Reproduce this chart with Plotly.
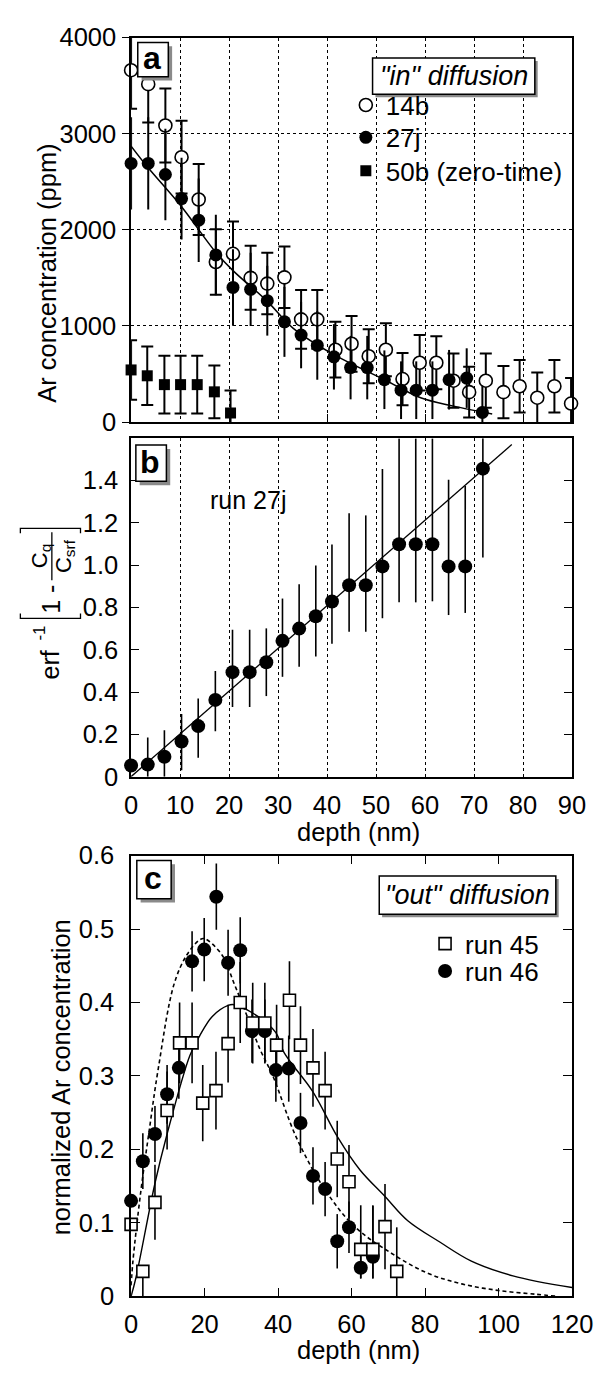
import plotly.graph_objects as go

W, H = 615, 1377
FONT = "Liberation Sans"

# ---------------- panel a data ("in" diffusion) ----------------
a14_x = [0, 3.5, 7.0, 10.3, 13.8, 17.3, 20.8, 24.4, 27.8, 31.3, 34.7, 38.0, 41.7, 45.0,
         48.5, 52.0, 55.4, 58.9, 62.3, 65.8, 69.0, 72.4, 76.0, 79.3, 82.9, 86.4, 89.8]
a14_y = [3660, 3515, 3085, 2755, 2315, 1665, 1750, 1500, 1440, 1505, 1068, 1068, 752, 814,
         685, 752, 447, 617, 617, 430, 311, 430, 311, 372, 253, 372, 192]
a14_e = [400, 400, 385, 378, 370, 340, 335, 333, 320, 320, 306, 306, 290, 290,
         281, 276, 272, 288, 275, 282, 265, 282, 272, 272, 262, 272, 265]

a27_x = [0, 3.5, 7.0, 10.3, 13.8, 17.3, 20.8, 24.4, 27.8, 31.3, 34.7, 38.0, 41.4, 44.8,
         48.2, 51.7, 55.1, 58.2, 61.5, 64.9, 68.5, 71.7]
a27_y = [2690, 2690, 2575, 2325, 2100, 1738, 1400, 1380, 1262, 1042, 905, 797, 678, 566,
         566, 440, 331, 331, 331, 440, 457, 100]
a27_e = [480, 480, 476, 425, 434, 418, 398, 380, 363, 364, 346, 357, 340, 330,
         330, 305, 300, 300, 300, 310, 310, 280]

a50_x = [0, 3.3, 6.8, 10.1, 13.5, 17.0, 20.3]
a50_y = [542, 481, 389, 389, 389, 314, 94]
a50_e = [310, 305, 300, 300, 300, 275, 235]

fita_x = [0, 3.4, 10.3, 17.3, 20.8, 27.8, 33.1, 41.6, 51.7, 59.1, 65.6, 73.7]
fita_y = [2870, 2650, 2240, 1765, 1575, 1255, 975, 695, 440, 253, 168, 84]

# ---------------- panel b data (run 27j linearised) ----------------
b_x = [0, 3.4, 6.8, 10.3, 13.7, 17.2, 20.7, 24.2, 27.6, 30.9, 34.3, 37.7, 41.0, 44.5,
       47.9, 51.3, 54.7, 58.1, 61.5, 64.8, 68.2, 71.8]
b_y = [0.053, 0.057, 0.094, 0.166, 0.239, 0.363, 0.494, 0.494, 0.541, 0.642, 0.700, 0.758,
       0.828, 0.905, 0.905, 0.994, 1.099, 1.099, 1.099, 0.994, 0.994, 1.456]
b_up = [0.0, 0.128, 0.126, 0.13, 0.131, 0.137, 0.2, 0.2, 0.16, 0.2, 0.21, 0.24, 0.27, 0.34,
        0.33, 0.46, 0.5, 0.5, 0.5, 0.41, 0.38, 0.144]
b_lo = [0.0, 0.057, 0.094, 0.136, 0.149, 0.148, 0.165, 0.165, 0.16, 0.17, 0.18, 0.19, 0.2,
        0.22, 0.22, 0.245, 0.275, 0.275, 0.27, 0.23, 0.22, 0.42]
fitb_x = [0, 77.7]
fitb_y = [0, 1.57]

# ---------------- panel c data ("out" diffusion) ----------------
c45_x = [0, 3.2, 6.5, 9.8, 13.2, 16.6, 19.5, 23.1, 26.4, 29.7, 33.1, 36.4, 39.6, 43.1,
         46.1, 49.5, 52.8, 56.1, 59.3, 62.5, 65.8, 69.1, 72.3]
c45_y = [0.098, 0.034, 0.128, 0.253, 0.345, 0.345, 0.263, 0.28, 0.344, 0.40, 0.372, 0.372,
         0.342, 0.403, 0.342, 0.311, 0.28, 0.187, 0.156, 0.064, 0.064, 0.095, 0.034]
c45_up = [0.0, 0.0, 0.051, 0.053, 0.055, 0.055, 0.052, 0.053, 0.053, 0.055, 0.055, 0.055,
          0.055, 0.053, 0.053, 0.053, 0.053, 0.052, 0.05, 0.06, 0.06, 0.058, 0.06]
c45_lo = [0.0, 0.034, 0.051, 0.053, 0.055, 0.055, 0.052, 0.053, 0.053, 0.055, 0.055, 0.055,
          0.055, 0.053, 0.053, 0.053, 0.053, 0.052, 0.05, 0.04, 0.04, 0.058, 0.034]

c46_x = [0, 3.2, 6.5, 9.8, 13.0, 16.6, 19.9, 23.2, 26.4, 29.7, 32.9, 36.4, 39.4, 42.9,
         46.1, 49.5, 52.8, 56.1, 59.3, 62.5, 65.8]
c46_y = [0.130, 0.184, 0.221, 0.275, 0.311, 0.456, 0.472, 0.544, 0.454, 0.471, 0.361, 0.361,
         0.308, 0.31, 0.236, 0.164, 0.146, 0.075, 0.094, 0.039, 0.054]
c46_up = [0.0, 0.038, 0.038, 0.04, 0.042, 0.041, 0.043, 0.045, 0.045, 0.045, 0.043, 0.043,
          0.043, 0.045, 0.041, 0.039, 0.037, 0.037, 0.035, 0.044, 0.069]
c46_lo = [0.0, 0.038, 0.038, 0.04, 0.042, 0.041, 0.043, 0.045, 0.045, 0.045, 0.043, 0.043,
          0.043, 0.045, 0.041, 0.039, 0.037, 0.037, 0.035, 0.014, 0.029]

fit45_x = [0, 1.3, 6.5, 9.8, 16, 18.6, 22.1, 26.4, 28, 33.3, 39.4, 41.6, 49.4, 56.3, 62.3,
           69.1, 75.3, 84, 92.6, 103.9, 120]
fit45_y = [0.0, 0.025, 0.154, 0.221, 0.328, 0.354, 0.381, 0.396, 0.397, 0.385, 0.359, 0.332,
           0.279, 0.216, 0.172, 0.136, 0.103, 0.074, 0.048, 0.028, 0.012]
fit46_x = [0, 0.5, 2.6, 4.8, 7.4, 11.7, 15.2, 18.6, 19.9, 24.7, 28.1, 31.6, 35.1, 38.5, 45,
           52.8, 60.6, 70.1, 80.5, 90, 100, 110, 116]
fit46_y = [0.015, 0.048, 0.141, 0.221, 0.31, 0.425, 0.465, 0.485, 0.487, 0.465, 0.425, 0.381,
           0.336, 0.301, 0.216, 0.145, 0.096, 0.061, 0.032, 0.017, 0.008, 0.003, 0.0]

a_yticks = [0, 1000, 2000, 3000, 4000]
b_yticks = [0, 0.2, 0.4, 0.6, 0.8, 1.0, 1.2, 1.4]
b_yticktext = ["0", "0.2", "0.4", "0.6", "0.8", "1.0", "1.2", "1.4"]
b_xticks = [0, 10, 20, 30, 40, 50, 60, 70, 80, 90]
c_yticks = [0, 0.1, 0.2, 0.3, 0.4, 0.5, 0.6]
c_yticktext = ["0", "0.1", "0.2", "0.3", "0.4", "0.5", "0.6"]
c_xticks = [0, 20, 40, 60, 80, 100, 120]


def fx(p):
    return p / W


def fy(p):
    return 1 - p / H


fig = go.Figure()

# ---- panel a ----
fig.add_trace(go.Scatter(x=fita_x, y=fita_y, mode="lines", xaxis="x", yaxis="y",
                         line=dict(color="black", width=1.5, shape="spline"),
                         showlegend=False, hoverinfo="skip"))
fig.add_trace(go.Scatter(x=a14_x, y=a14_y, mode="markers", xaxis="x", yaxis="y", name="14b",
                         marker=dict(symbol="circle", size=13, color="white",
                                     line=dict(color="black", width=1.6)),
                         error_y=dict(type="data", array=a14_e, color="black", thickness=2, width=6),
                         cliponaxis=False, legend="legend"))
fig.add_trace(go.Scatter(x=a27_x, y=a27_y, mode="markers", xaxis="x", yaxis="y", name="27j",
                         marker=dict(symbol="circle", size=13, color="black"),
                         error_y=dict(type="data", array=a27_e, color="black", thickness=2, width=0),
                         cliponaxis=False, legend="legend4"))
fig.add_trace(go.Scatter(x=a50_x, y=a50_y, mode="markers", xaxis="x", yaxis="y",
                         name="50b (zero-time)",
                         marker=dict(symbol="square", size=11, color="black"),
                         error_y=dict(type="data", array=a50_e, color="black", thickness=2, width=6),
                         cliponaxis=False, legend="legend5"))

# ---- panel b ----
fig.add_trace(go.Scatter(x=fitb_x, y=fitb_y, mode="lines", xaxis="x2", yaxis="y2",
                         line=dict(color="black", width=1.3), showlegend=False, hoverinfo="skip"))
fig.add_trace(go.Scatter(x=b_x, y=b_y, mode="markers", xaxis="x2", yaxis="y2", name="run 27j",
                         marker=dict(symbol="circle", size=14, color="black"),
                         error_y=dict(type="data", symmetric=False, array=b_up, arrayminus=b_lo,
                                      color="black", thickness=1.6, width=0),
                         cliponaxis=False, showlegend=False))

# ---- panel c ----
fig.add_trace(go.Scatter(x=fit45_x, y=fit45_y, mode="lines", xaxis="x3", yaxis="y3",
                         line=dict(color="black", width=1.4, shape="spline"),
                         showlegend=False, hoverinfo="skip"))
fig.add_trace(go.Scatter(x=fit46_x, y=fit46_y, mode="lines", xaxis="x3", yaxis="y3",
                         line=dict(color="black", width=1.6, shape="spline", dash="4px,3px"),
                         showlegend=False, hoverinfo="skip"))
fig.add_trace(go.Scatter(x=c46_x, y=c46_y, mode="markers", xaxis="x3", yaxis="y3", name="run 46",
                         marker=dict(symbol="circle", size=14, color="black"),
                         error_y=dict(type="data", symmetric=False, array=c46_up, arrayminus=c46_lo,
                                      color="black", thickness=1.6, width=0),
                         cliponaxis=False, legend="legend3"))
fig.add_trace(go.Scatter(x=c45_x, y=c45_y, mode="markers", xaxis="x3", yaxis="y3", name="run 45",
                         marker=dict(symbol="square", size=12, color="white",
                                     line=dict(color="black", width=1.6)),
                         error_y=dict(type="data", symmetric=False, array=c45_up, arrayminus=c45_lo,
                                      color="black", thickness=1.6, width=0),
                         cliponaxis=False, legend="legend2"))

X0, X1 = 130, 592
A_T, A_B = 24, 416.5
B_T, B_B = 433, 778.5
C_T, C_B = 859, 1309

tickfont = dict(family=FONT, size=25.5, color="black")
base = dict(showline=True, linecolor="black", linewidth=1.5, zeroline=False, tickfont=tickfont)


def leg(xs, yc, size):
    # the legend symbol is drawn 20 px right of the legend's left edge
    return dict(x=fx(xs - 20), y=fy(yc), xanchor="left", yanchor="middle",
                bgcolor="rgba(0,0,0,0)", font=dict(family=FONT, size=size, color="black"),
                itemsizing="trace", borderwidth=0)


fig.update_layout(
    width=W, height=H, margin=dict(l=0, r=0, t=0, b=0),
    paper_bgcolor="white", plot_bgcolor="white",
    font=dict(family=FONT, color="black"),
    xaxis=dict(domain=[fx(X0), fx(X1)], range=[0, 90], anchor="y", mirror=True,
               showticklabels=False, ticks="inside", ticklen=8, tickcolor="black",
               tickvals=[20, 40, 60, 80],
               showgrid=True, gridcolor="black", griddash="dot", gridwidth=1,
               minor=dict(tickvals=[10, 30, 50, 70], showgrid=True, gridcolor="black",
                          griddash="dot", gridwidth=1, ticks=""),
               **base),
    yaxis=dict(domain=[fy(A_B), fy(A_T)], range=[0, 4000], anchor="x", mirror=True,
               tickvals=a_yticks, ticks="outside", ticklen=7, tickcolor="black",
               showgrid=True, gridcolor="black", griddash="dot", gridwidth=1,
               ticklabelstandoff=1, **base),
    xaxis2=dict(domain=[fx(X0), fx(X1)], range=[0, 90], anchor="y2", mirror=True,
                tickvals=b_xticks, ticks="", showgrid=True, gridcolor="black",
                griddash="dot", gridwidth=1, ticklabelstandoff=5, **base),
    yaxis2=dict(domain=[fy(B_B), fy(B_T)], range=[0, 1.6], anchor="x2", mirror="ticks",
                tickvals=b_yticks, ticktext=b_yticktext, ticks="inside", ticklen=8,
                tickcolor="black", showgrid=False, ticklabelstandoff=6, **base),
    xaxis3=dict(domain=[fx(X0), fx(X1)], range=[0, 120], anchor="y3", mirror="ticks",
                tickvals=c_xticks, ticks="inside", ticklen=9, tickcolor="black",
                showgrid=False, ticklabelstandoff=4, **base),
    yaxis3=dict(domain=[fy(C_B), fy(C_T)], range=[0, 0.6], anchor="x3", mirror="ticks",
                tickvals=c_yticks, ticktext=c_yticktext, ticks="inside", ticklen=9,
                tickcolor="black", showgrid=False, ticklabelstandoff=10, **base),
    legend=leg(375, 93, 26),
    legend4=leg(375, 126, 26),
    legend5=leg(375, 160, 26),
    legend2=leg(458, 949, 26),
    legend3=leg(458, 977, 26),
)

shapes = []
# white area hiding the grid behind the legend of panel a
shapes.append(dict(type="rect", xref="paper", yref="paper", x0=fx(363), x1=fx(582),
                   y0=fy(182), y1=fy(44), fillcolor="white", line=dict(width=0), layer="between"))


def boxed(x0, y0, x1, y1, sh=4):
    shapes.append(dict(type="rect", xref="paper", yref="paper", x0=fx(x0 + sh), x1=fx(x1 + sh),
                       y0=fy(y1 + sh), y1=fy(y0 + sh), fillcolor="#8a8a8a",
                       line=dict(width=0), layer="above"))
    shapes.append(dict(type="rect", xref="paper", yref="paper", x0=fx(x0), x1=fx(x1),
                       y0=fy(y1), y1=fy(y0), fillcolor="white",
                       line=dict(color="black", width=1.5), layer="above"))


boxed(137, 29, 169, 64)
boxed(135, 440, 167, 477)
boxed(136, 864, 172, 903)
boxed(383, 45, 553, 82, sh=3)
boxed(390, 880, 575, 919, sh=3)

# bracket + fraction bar of the panel b y-title
shapes.append(dict(type="path", xref="paper", yref="paper",
                   path=f"M {fx(14)},{fy(612)} L {fx(14)},{fy(617)} "
                        f"L {fx(77)},{fy(617)} L {fx(77)},{fy(612)}",
                   line=dict(color="black", width=1.3)))
shapes.append(dict(type="path", xref="paper", yref="paper",
                   path=f"M {fx(14)},{fy(530)} L {fx(14)},{fy(525)} "
                        f"L {fx(77)},{fy(525)} L {fx(77)},{fy(530)}",
                   line=dict(color="black", width=1.3)))
shapes.append(dict(type="line", xref="paper", yref="paper", x0=fx(47), x1=fx(47),
                   y0=fy(578), y1=fy(529), line=dict(color="black", width=1.3)))
fig.update_layout(shapes=shapes)

ann = []


def text(x, y, s, size=24, angle=0, bold=False, italic=False, xanchor="center"):
    t = s
    if bold:
        t = f"<b>{t}</b>"
    if italic:
        t = f"<i>{t}</i>"
    ann.append(dict(xref="paper", yref="paper", x=fx(x), y=fy(y), text=t, showarrow=False,
                    textangle=angle, xanchor=xanchor, yanchor="middle",
                    font=dict(family=FONT, size=size, color="black")))


text(152, 45, "a", size=32, bold=True)
text(150, 457, "b", size=32, bold=True)
text(153, 882, "c", size=32, bold=True)
text(468, 63, '"in" diffusion', size=27, italic=True)
text(482, 899, '"out" diffusion', size=27, italic=True)
text(252, 496, "run 27j", size=25)
text(41, 265, "Ar concentration (ppm)", size=25.5, angle=-90)
text(57, 1085, "normalized Ar concentration", size=25.5, angle=-90)
text(368, 835, "depth (nm)", size=25.5)
text(368, 1364, "depth (nm)", size=25.5)
# composite y-title of panel b
text(46, 664, "erf", size=25, angle=-90)
text(34, 632, "-1", size=17, angle=-90)
text(46, 597, "1 -", size=25, angle=-90)
text(35, 553, "C<sub>q</sub>", size=22, angle=-90)
text(60, 553, "C<sub>srf</sub>", size=22, angle=-90)
fig.update_layout(annotations=ann)

fig.write_html("out.html")
